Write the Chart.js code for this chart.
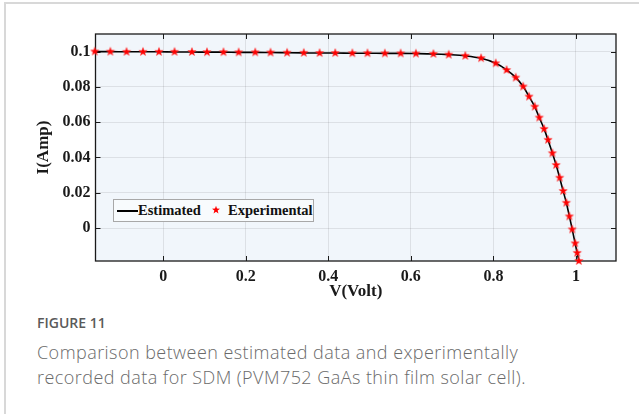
<!DOCTYPE html>
<html><head><meta charset="utf-8">
<script src="https://cdn.jsdelivr.net/npm/chart.js@4.4.0/dist/chart.umd.min.js"></script>
<style>
html,body{margin:0;padding:0;background:#fff;}
#wrap{position:relative;width:639px;height:414px;overflow:hidden;background:#fff;}
#frame{position:absolute;left:4px;top:2px;width:700px;height:500px;border-top:2px solid #d8d8d8;border-left:2px solid #d8d8d8;}
#cv{position:absolute;left:0;top:0;}
#legend{position:absolute;left:113px;top:199px;width:199px;height:21px;border:1px solid #a8a8a8;background:#f8fbfd;font:bold 14.5px "Liberation Serif";color:#111;}
#legend .ln{position:absolute;left:3px;top:10px;width:21px;height:2px;background:#000;}
#legend .t1{position:absolute;left:24px;top:0;line-height:21px;}
#legend .st{position:absolute;left:97px;top:5px;}
#legend .t2{position:absolute;left:114px;top:0;line-height:21px;}
#fig{position:absolute;left:37px;top:314px;font:600 14px "Open Sans";line-height:18px;color:#5a5a5a;}
#cap{position:absolute;left:37px;top:339.5px;font:300 18px "Open Sans";line-height:25px;letter-spacing:0.45px;color:#6a6a6a;white-space:nowrap;}
</style></head>
<body><div id="wrap">
<div id="frame"></div>
<canvas id="cv" width="639" height="310"></canvas>
<div id="legend"><div class="ln"></div><div class="t1">Estimated</div>
<svg class="st" width="10" height="10" viewBox="-5 -5 10 10"><polygon id="lgstar" fill="#ff0000"/></svg>
<div class="t2">Experimental</div></div>
<div id="fig">FIGURE 11</div>
<div id="cap">Comparison between estimated data and experimentally<br>recorded data for SDM (PVM752 GaAs thin film solar cell).</div>
</div>
<script>
// ---- data ----
const voltExp = [-0.1659,-0.1281,-0.0888,-0.0490,-0.0102,0.0275,0.0695,0.1061,0.1460,0.1828,0.2230,0.2600,0.3001,0.3406,0.3789,0.4168,0.4583,0.4949,0.5370,0.5753,0.6123,0.6546,0.6918,0.7318,0.7702,0.8056,0.8320,0.8540,0.8720,0.8863,0.9001,0.9112,0.9228,0.9323,0.9430,0.9520,0.9605,0.9690,0.9767,0.9840,0.9910,0.9980,1.0030,1.0070];
const currExp = [0.1001,0.1000,0.0999,0.0999,0.0999,0.0999,0.0998,0.0997,0.0997,0.0996,0.0996,0.0995,0.0994,0.0993,0.0992,0.0992,0.0991,0.0991,0.0990,0.0990,0.0989,0.0987,0.0983,0.0976,0.0963,0.0934,0.0896,0.0853,0.0802,0.0745,0.0688,0.0626,0.0562,0.0500,0.0424,0.0357,0.0285,0.0210,0.0143,0.0066,-0.0008,-0.0087,-0.0141,-0.0187];
const voltEst = [-0.1659,-0.1281,-0.0888,-0.0490,-0.0102,0.0275,0.0695,0.1061,0.1460,0.1828,0.2230,0.2600,0.3001,0.3406,0.3789,0.4168,0.4583,0.4949,0.5370,0.5753,0.6123,0.6546,0.6918,0.7318,0.7702,0.8056,0.8320,0.8540,0.8720,0.8863,0.9001,0.9112,0.9228,0.9323,0.9430,0.9520,0.9605,0.9690,0.9767,0.9840,0.9910,0.9980,1.0030,1.0070];
const currEst = [0.1000,0.1000,0.0999,0.0999,0.0999,0.0998,0.0998,0.0997,0.0997,0.0996,0.0996,0.0995,0.0994,0.0993,0.0992,0.0992,0.0991,0.0991,0.0990,0.0990,0.0989,0.0987,0.0983,0.0976,0.0962,0.0934,0.0897,0.0854,0.0802,0.0746,0.0688,0.0626,0.0562,0.0499,0.0424,0.0357,0.0285,0.0210,0.0143,0.0067,-0.0008,-0.0087,-0.0141,-0.0187];
const xTickVals = [0,0.2,0.4,0.6,0.8,1];
const xTickLabels = ['0','0.2','0.4','0.6','0.8','1'];
const yTickVals = [0,0.02,0.04,0.06,0.08,0.1];
const yTickLabels = ['0','0.02','0.04','0.06','0.08','0.1'];
const seriesNames = ['Estimated','Experimental'];
const axisTitles = ['V(Volt)','I(Amp)'];

// star shapes
function starPts(R, r){
  const p=[];
  for(let k=0;k<10;k++){const a=-Math.PI/2+k*Math.PI/5;const rr=k%2?r:R;p.push([rr*Math.cos(a),rr*Math.sin(a)]);}
  return p;
}
document.getElementById('lgstar').setAttribute('points', starPts(4.2,1.7).map(p=>p[0].toFixed(2)+','+p[1].toFixed(2)).join(' '));
const star = document.createElement('canvas');
star.width=12; star.height=12;
(function(){
  const c=star.getContext('2d'); c.translate(6,6);
  c.beginPath(); starPts(4.4,1.85).forEach((p,i)=>i?c.lineTo(p[0],p[1]):c.moveTo(p[0],p[1])); c.closePath();
  c.fillStyle='#ff0000'; c.fill(); c.strokeStyle='rgba(255,60,60,0.45)'; c.lineWidth=1; c.stroke();
})();

const frame = {
  id:'frame',
  beforeDraw(chart){
    const a=chart.chartArea, c=chart.ctx;
    c.save(); c.fillStyle='#f1f6fb'; c.fillRect(a.left,a.top,a.right-a.left,a.bottom-a.top); c.restore();
  },
  beforeDatasetsDraw(chart){
    const a=chart.chartArea, c=chart.ctx, xs=chart.scales.x, ys=chart.scales.y;
    c.save(); c.strokeStyle='#1a1a1a'; c.lineWidth=1.3;
    c.strokeRect(a.left,a.top,a.right-a.left,a.bottom-a.top);
    c.lineWidth=1; c.beginPath();
    xs.ticks.forEach(t=>{const x=Math.round(xs.getPixelForValue(t.value))+0.5;
      c.moveTo(x,a.bottom); c.lineTo(x,a.bottom-5); c.moveTo(x,a.top); c.lineTo(x,a.top+5);});
    ys.ticks.forEach(t=>{const y=Math.round(ys.getPixelForValue(t.value))+0.5;
      c.moveTo(a.left,y); c.lineTo(a.left+5,y); c.moveTo(a.right,y); c.lineTo(a.right-5,y);});
    c.stroke(); c.restore();
  }
};

const tickFont = {family:'"Liberation Serif"', weight:'bold', size:16};
const titleFont = {family:'"Liberation Serif"', weight:'bold', size:17, lineHeight:1.2};

new Chart(document.getElementById('cv'), {
  type:'scatter',
  data:{datasets:[
    {label:seriesNames[1], data:voltExp.map((v,i)=>({x:v,y:currExp[i]})), pointStyle:star, pointRadius:5,
     showLine:false, order:0, clip:false},
    {label:seriesNames[0], data:voltEst.map((v,i)=>({x:v,y:currEst[i]})), showLine:true, pointRadius:0,
     borderColor:'#000', borderWidth:1.6, cubicInterpolationMode:'monotone', order:1}
  ]},
  options:{
    responsive:false, animation:false, devicePixelRatio:1,
    layout:{padding:{left:33, right:23, top:34, bottom:8}},
    plugins:{legend:{display:false}, tooltip:{enabled:false}},
    scales:{
      x:{type:'linear', min:-0.164, max:1.097,
        afterBuildTicks:s=>{s.ticks=xTickVals.map(v=>({value:v}));},
        afterFit:s=>{s.height=41;},
        ticks:{font:tickFont, color:'#1a1a1a', padding:6, maxRotation:0, callback:v=>xTickLabels[xTickVals.indexOf(v)]},
        grid:{color:'rgba(0,0,0,0.085)', drawTicks:false}, border:{display:false},
        title:{display:true, text:axisTitles[0], font:titleFont, color:'#1a1a1a', padding:0}},
      y:{type:'linear', min:-0.0187, max:0.1100,
        afterBuildTicks:s=>{s.ticks=yTickVals.map(v=>({value:v}));},
        afterFit:s=>{s.width=62.5;},
        ticks:{font:tickFont, color:'#1a1a1a', padding:5, callback:v=>yTickLabels[yTickVals.indexOf(v)]},
        grid:{color:'rgba(0,0,0,0.085)', drawTicks:false}, border:{display:false},
        title:{display:true, text:axisTitles[1], font:titleFont, color:'#1a1a1a', padding:0}}
    }
  },
  plugins:[frame]
});
</script>
</body></html>
